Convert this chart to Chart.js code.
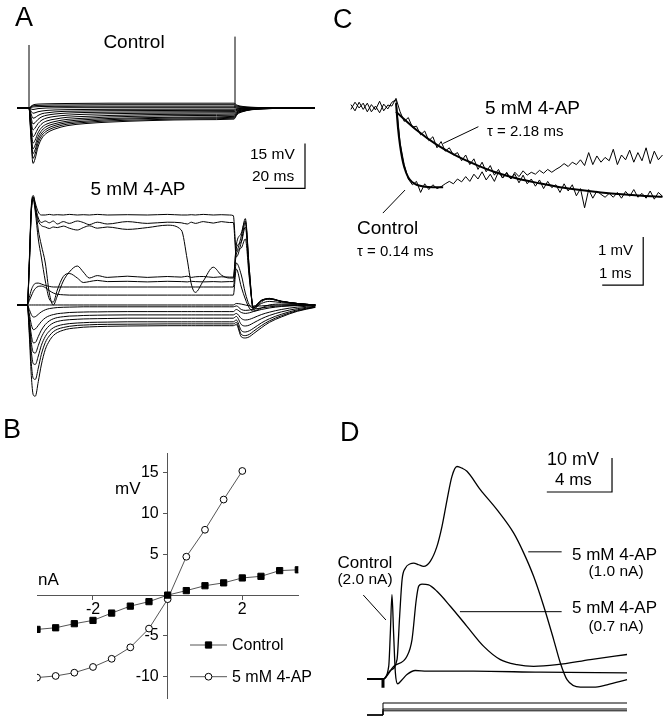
<!DOCTYPE html>
<html lang="en">
<head>
<meta charset="UTF-8">
<title>4-AP recordings</title>
<script src="https://cdn.jsdelivr.net/npm/chart.js@4"></script>
<style>
  body { margin: 0; background: #fff; }
  #fig { position: relative; width: 669px; height: 720px; overflow: hidden;
         font-family: 'Liberation Sans', Arial, Helvetica, sans-serif; color: #000; }
  #fig canvas { position: absolute; }
  .t { position: absolute; white-space: nowrap; line-height: 1; transform: translateY(-50%); }
  .c { transform: translate(-50%, -50%); }
  .big { font-size: 27px; }
</style>
</head>
<body>
<div id="fig">
  <canvas id="chartA1" width="340" height="200" style="left:0;top:0"></canvas>
  <canvas id="chartA2" width="340" height="220" style="left:0;top:180px"></canvas>
  <canvas id="chartB" width="340" height="280" style="left:0;top:440px"></canvas>
  <canvas id="chartC" width="329" height="260" style="left:340px;top:40px"></canvas>
  <canvas id="chartD" width="329" height="320" style="left:340px;top:400px"></canvas>

  <!-- panel A -->
  <div class="t big" style="left:15px;top:17px">A</div>
  <div class="t c" style="left:134px;top:41px;font-size:19px">Control</div>
  <div class="t c" style="left:138px;top:188px;font-size:19px">5 mM 4-AP</div>
  <div class="t" style="left:250px;top:154px;font-size:15.5px">15 mV</div>
  <div class="t" style="left:252px;top:176px;font-size:15.5px">20 ms</div>

  <!-- panel B -->
  <div class="t big" style="left:3px;top:429px">B</div>
  <div class="t" style="left:115px;top:488px;font-size:17px">mV</div>
  <div class="t" style="left:38px;top:579px;font-size:17px">nA</div>

  <!-- panel C -->
  <div class="t big" style="left:333px;top:19px">C</div>
  <div class="t" style="left:485px;top:107px;font-size:19px">5 mM 4-AP</div>
  <div class="t" style="left:487px;top:130px;font-size:15px">&tau; = 2.18 ms</div>
  <div class="t" style="left:357px;top:227px;font-size:19px">Control</div>
  <div class="t" style="left:357px;top:250px;font-size:15px">&tau; = 0.14 ms</div>
  <div class="t" style="left:598px;top:249px;font-size:15px">1 mV</div>
  <div class="t" style="left:599px;top:272px;font-size:15px">1 ms</div>

  <!-- panel D -->
  <div class="t big" style="left:340px;top:432px">D</div>
  <div class="t" style="left:547px;top:459px;font-size:18px">10 mV</div>
  <div class="t" style="left:555px;top:479px;font-size:17px">4 ms</div>
  <div class="t c" style="left:365px;top:562px;font-size:17px">Control</div>
  <div class="t c" style="left:365px;top:579px;font-size:15.5px">(2.0 nA)</div>
  <div class="t" style="left:572px;top:554px;font-size:17px">5 mM 4-AP</div>
  <div class="t c" style="left:616px;top:571px;font-size:15.5px">(1.0 nA)</div>
  <div class="t" style="left:572px;top:607px;font-size:17px">5 mM 4-AP</div>
  <div class="t c" style="left:616px;top:626px;font-size:15.5px">(0.7 nA)</div>
</div>

<script>
const FONT = "'Liberation Sans', Arial, Helvetica, sans-serif";

// ---------- A: control, responses to current steps (ms, mV) ----------
const ctlTime = [-6, 0, 1, 2, 3, 4.5, 6.5, 9, 13, 19, 28, 40, 60, 85, 102.5, 104, 107, 111, 117, 126, 143];
const ctlTraces = [
  [0, 0, -10.4, -18.5, -17, -13, -10, -8.3, -7, -5.9, -5.2, -4.7, -4.2, -3.9, -3.7, -2.2, -1.2, -0.6, -0.3, -0.1, 0],
  [0, 0, -9.5, -16.8, -15.4, -11.8, -9.1, -7.6, -6.4, -5.4, -4.8, -4.3, -3.9, -3.6, -3.4, -2.0, -1.1, -0.55, -0.25, -0.1, 0],
  [0, 0, -8.6, -15.2, -14, -10.7, -8.3, -6.9, -5.8, -4.9, -4.4, -3.9, -3.5, -3.3, -3.1, -1.8, -1.0, -0.5, -0.25, -0.1, 0],
  [0, 0, -7.6, -13.6, -12.5, -9.6, -7.4, -6.1, -5.2, -4.4, -3.9, -3.5, -3.2, -3.0, -2.8, -1.6, -0.9, -0.45, -0.2, -0.1, 0],
  [0, 0, -6.6, -11.7, -10.8, -8.3, -6.4, -5.3, -4.5, -3.8, -3.4, -3.0, -2.7, -2.5, -2.4, -1.4, -0.8, -0.4, -0.2, -0.1, 0],
  [0, 0, -5.4, -9.6, -8.8, -6.8, -5.2, -4.3, -3.7, -3.1, -2.8, -2.5, -2.2, -2.1, -2.0, -1.2, -0.7, -0.35, -0.15, -0.05, 0],
  [0, 0, -4.1, -7.3, -6.7, -5.2, -4.0, -3.3, -2.8, -2.4, -2.1, -1.9, -1.75, -1.65, -1.6, -0.95, -0.55, -0.3, -0.1, 0, 0],
  [0, 0, -3.0, -5.3, -4.9, -3.8, -2.9, -2.4, -2.0, -1.7, -1.5, -1.4, -1.3, -1.25, -1.2, -0.7, -0.4, -0.2, -0.1, 0, 0],
  [0, 0, -1.9, -3.4, -3.2, -2.5, -1.9, -1.6, -1.3, -1.1, -1.0, -0.9, -0.85, -0.8, -0.8, -0.45, -0.25, -0.1, 0, 0, 0],
  [0, 0, -1.0, -1.75, -1.6, -1.25, -1.0, -0.8, -0.65, -0.55, -0.5, -0.45, -0.42, -0.4, -0.4, -0.25, -0.1, 0, 0, 0, 0],
  [0, 0, -0.3, -0.5, -0.4, -0.2, -0.1, 0, 0.05, 0.1, 0.1, 0.1, 0.1, 0.1, 0.1, 0.05, 0, 0, 0, 0, 0],
  [0, 0, 0.2, 0.35, 0.4, 0.45, 0.5, 0.5, 0.55, 0.55, 0.6, 0.6, 0.6, 0.6, 0.6, 0.35, 0.2, 0.1, 0.05, 0, 0],
  [0, 0, 0.4, 0.7, 0.8, 0.85, 0.9, 0.95, 1.0, 1.0, 1.05, 1.1, 1.1, 1.1, 1.1, 0.65, 0.35, 0.2, 0.1, 0.05, 0],
  [0, 0, 0.6, 1.0, 1.2, 1.3, 1.35, 1.4, 1.45, 1.5, 1.55, 1.6, 1.6, 1.6, 1.6, 0.95, 0.5, 0.25, 0.1, 0.05, 0]
];
const ctlArtifactTime = [0, 103];
const ctlArtifactPeak = [21, 23.8];

// ---------- A: 5 mM 4-AP ----------
const apTime = [-5, 0, 1, 2, 3, 4, 5.5, 7, 9, 11, 13, 15, 18, 21, 25, 28, 31, 35, 40, 50, 60, 70,
                77, 80, 82, 84, 88, 93, 97, 101, 103, 104.5, 107, 109, 111, 113, 117, 121, 127, 135, 144];
const apTraces = [
  [0, 0, 15, 33, 36.5, 34, 31, 30, 30, 30.2, 30, 30.1, 30, 30.2, 30, 30.1, 30, 30.2, 30, 30.1, 30, 30.2, 30, 30, 30.1, 30, 30.2, 30, 30.1, 30, 29.8, 18, 23, 28.8, 12, -1.5, 1, 2.2, 1.2, 0.5, 0],
  [0, 0, 14, 32, 36, 33, 29, 27.5, 28, 27.4, 28, 27, 27.8, 27.2, 28, 27.5, 26.8, 27.6, 27, 27.8, 27.2, 27.6, 27.4, 27, 27.6, 27.2, 27.8, 27.3, 27.8, 27.5, 27.5, 16, 21, 27.5, 11, -1, 1.5, 2.2, 1.3, 0.5, 0],
  [0, 0, 13, 31, 35.5, 32, 28, 26.5, 26, 25.5, 26, 25.8, 26.3, 25.6, 25, 25.8, 26.4, 25.6, 26, 25.2, 25.8, 26.6, 25, 15, 7, 4.2, 8, 12.6, 10, 9, 9, 19, 21, 26, 10, -1, 1.5, 2, 1.2, 0.5, 0],
  [0, 0, 14, 32, 36, 33, 25, 20, 14, 4, 0, 3, 8, 11, 13, 11, 9, 9.8, 9.2, 9.6, 9.2, 9.5, 9.3, 9.6, 9.2, 9.4, 9.5, 9.2, 9.4, 9.3, 9.3, 20, 24, 28, 12, -1, 1.5, 2, 1.2, 0.5, 0],
  [0, 0, 13, 31, 35, 31, 22, 16, 8, 2, 1, 5, 9.5, 10.5, 9, 7.5, 7.8, 8.2, 7.8, 7.9, 7.7, 7.9, 7.8, 7.7, 7.9, 7.8, 7.7, 7.8, 7.7, 7.8, 7.8, 17, 19, 22, 9, -0.5, 1.5, 2, 1.2, 0.5, 0],
  [0, 0, 2.5, 5, 6.5, 7.2, 7.3, 7, 6.5, 6.2, 6, 6, 6, 6, 6, 6, 6, 6, 6, 6, 6, 6, 6, 6, 6, 6, 6, 6, 6, 6, 6, 14, 10, 4, 0, -1, 0.5, 1.2, 0.8, 0.3, 0],
  [0, 0, 1.5, 3, 4.5, 5.5, 6.2, 6.3, 5.8, 4.8, 4, 3.6, 3.4, 3.3, 3.3, 3.3, 3.3, 3.3, 3.3, 3.3, 3.3, 3.3, 3.3, 3.3, 3.3, 3.3, 3.3, 3.3, 3.3, 3.3, 3.3, 12, 6, 2, -1, -2, -1, 0, 0.3, 0.2, 0],
  [0, 0, 0, 0, 0, 0, 0, 0, 0, 0, 0, 0, 0, 0, 0, 0, 0, 0, 0, 0, 0, 0, 0, 0, 0, 0, 0, 0, 0, 0, 0, 0.5, 0.3, 0, -0.3, -0.4, -0.3, -0.1, 0, 0, 0],
  [0, 0, -1.5, -3.2, -4, -3.9, -3.1, -2.3, -1.6, -1.2, -1, -0.85, -0.75, -0.7, -0.65, -0.6, -0.6, -0.6, -0.6, -0.6, -0.6, -0.6, -0.6, -0.6, -0.6, -0.6, -0.6, -0.6, -0.6, -0.6, -0.6, -0.3, -1.5, -1.8, -1.7, -1.4, -1, -0.6, -0.3, -0.1, 0],
  [0, 0, -3, -6.5, -8.2, -8, -6.8, -5.5, -4.3, -3.6, -3.2, -2.9, -2.7, -2.5, -2.4, -2.35, -2.3, -2.3, -2.25, -2.2, -2.2, -2.2, -2.2, -2.2, -2.2, -2.2, -2.2, -2.2, -2.2, -2.2, -2.2, -1.5, -2.5, -2.8, -2.6, -2.2, -1.5, -1, -0.5, -0.2, 0],
  [0, 0, -4.5, -10, -12.6, -12.5, -10.5, -8.4, -6.5, -5.3, -4.6, -4.2, -3.9, -3.7, -3.6, -3.5, -3.45, -3.4, -3.35, -3.3, -3.3, -3.3, -3.3, -3.3, -3.3, -3.3, -3.3, -3.3, -3.3, -3.3, -3.3, -2.8, -4.5, -5, -4.8, -4.3, -3.2, -2.4, -1.5, -0.7, -0.2],
  [0, 0, -5.5, -12.5, -15.8, -16, -13.5, -10.8, -8.4, -6.9, -6, -5.5, -5.1, -4.9, -4.75, -4.65, -4.6, -4.55, -4.5, -4.4, -4.4, -4.4, -4.4, -4.4, -4.4, -4.4, -4.4, -4.4, -4.4, -4.4, -4.4, -3.8, -6.5, -7, -6.7, -6, -4.6, -3.5, -2.3, -1.2, -0.4],
  [0, 0, -7, -15.5, -19.6, -19.8, -17, -13.5, -10.5, -8.7, -7.6, -7, -6.5, -6.2, -6, -5.9, -5.8, -5.75, -5.7, -5.6, -5.6, -5.6, -5.6, -5.6, -5.6, -5.6, -5.6, -5.6, -5.6, -5.6, -5.6, -5, -8.5, -9, -8.6, -7.8, -6, -4.6, -3.1, -1.6, -0.6],
  [0, 0, -8.5, -19.5, -24.5, -24.8, -21, -16.5, -12.5, -10.3, -8.9, -8.1, -7.5, -7.1, -6.8, -6.7, -6.6, -6.5, -6.45, -6.4, -6.35, -6.3, -6.3, -6.3, -6.3, -6.3, -6.3, -6.3, -6.3, -6.3, -6.3, -5.8, -9.8, -10.2, -9.8, -8.8, -6.9, -5.3, -3.6, -1.9, -0.7],
  [0, 0, -10, -23.5, -30, -30.4, -25.5, -20, -14.8, -12, -10.2, -9.2, -8.4, -7.9, -7.6, -7.4, -7.3, -7.2, -7.1, -7.0, -6.95, -6.9, -6.9, -6.9, -6.9, -6.9, -6.9, -6.9, -6.9, -6.9, -6.9, -6.5, -10.6, -11, -10.6, -9.6, -7.6, -5.8, -4, -2.1, -0.8]
];

// ---------- B: V-I relation ----------
const ivCurrent = [-3.5, -3, -2.5, -2, -1.5, -1, -0.5, 0, 0.5, 1, 1.5, 2, 2.5, 3, 3.5];
const ivControl = [-4.2, -4.0, -3.5, -3.1, -2.2, -1.35, -0.8, 0, 0.55, 1.15, 1.5, 2.1, 2.3, 3.0, 3.1];
const ivAP = [-10.1, -9.9, -9.5, -8.8, -7.8, -6.4, -4.1, -0.5, 4.7, 8.0, 11.7, 15.2];
const ivTicksX = [-2, 2];
const ivTicksY = [-10, -5, 5, 10, 15];

// ---------- C: onset of the response, with exponential fits ----------
const cTime = [-1.1, -1.0, -0.9, -0.8, -0.7, -0.6, -0.5, -0.4, -0.3, -0.2, -0.1,
  0, 0.1, 0.2, 0.3, 0.4, 0.5, 0.6, 0.7, 0.8, 0.9, 1.0, 1.1, 1.2, 1.3, 1.4, 1.5, 1.6, 1.7, 1.8, 1.9,
  2.0, 2.1, 2.2, 2.3, 2.4, 2.5, 2.6, 2.7, 2.8, 2.9, 3.0, 3.1, 3.2, 3.3, 3.4, 3.5, 3.6, 3.7, 3.8, 3.9,
  4.0, 4.1, 4.2, 4.3, 4.4, 4.5, 4.6, 4.7, 4.8, 4.9, 5.0, 5.1, 5.2, 5.3, 5.4, 5.5, 5.6, 5.7, 5.8, 5.9,
  6.0, 6.1, 6.2, 6.3, 6.4, 6.5];
const cControl = [0.05, -0.08, 0.1, -0.05, 0.08, -0.1, 0.02, -0.12, 0.06, -0.04, 0.1,
  0.15, -0.75, -1.2, -1.5, -1.62, -1.55, -1.78, -1.6, -1.72, -1.62,
  -1.7, -1.66, -1.6, -1.55, -1.6, -1.5, -1.56, -1.45, -1.55, -1.4,
  -1.5, -1.35, -1.52, -1.4, -1.55, -1.35, -1.48, -1.38, -1.5, -1.36,
  -1.45, -1.33, -1.42, -1.36, -1.4, -1.32, -1.38, -1.3, -1.36, -1.3,
  -1.25, -1.18, -1.24, -1.15, -1.2, -1.1, -1.22, -0.95, -1.2, -1.02,
  -1.15, -1.05, -1.12, -0.88, -1.2, -1.0, -1.1, -0.9, -1.15, -0.95,
  -1.12, -0.85, -1.18, -0.92, -1.1, -1.0];
const cAP = [-0.05, 0.1, -0.02, 0.08, -0.1, 0.05, -0.06, 0.12, -0.08, 0.04, 0.02,
  0.18, -0.1, -0.3, -0.22, -0.42, -0.4, -0.58, -0.5, -0.7, -0.62,
  -0.85, -0.72, -0.92, -0.85, -1.0, -0.95, -1.12, -1.0, -1.2, -1.08,
  -1.3, -1.15, -1.35, -1.22, -1.42, -1.3, -1.48, -1.36, -1.5, -1.4,
  -1.58, -1.42, -1.6, -1.5, -1.65, -1.52, -1.7, -1.55, -1.68, -1.62,
  -1.78, -1.6, -1.75, -1.62, -1.85, -1.7, -2.1, -1.72, -1.9, -1.75,
  -1.82, -1.88, -1.8, -1.88, -1.78, -1.9, -1.76, -1.86, -1.72, -1.88,
  -1.8, -1.9, -1.75, -1.92, -1.78, -1.86];
const cFitCtlTime = [0, 0.05, 0.1, 0.15, 0.2, 0.3, 0.4, 0.5, 0.7, 0.9, 1.15];
const cFitCtl = [0.08, -0.45, -0.81, -1.07, -1.25, -1.47, -1.57, -1.62, -1.66, -1.67, -1.67];
const cFitAPTime = [0, 0.5, 1, 1.5, 2, 2.5, 3, 3.5, 4, 4.5, 5, 5.5, 6, 6.5];
const cFitAP = [-0.10, -0.48, -0.79, -1.03, -1.22, -1.38, -1.50, -1.59, -1.67, -1.73, -1.78, -1.82, -1.85, -1.87];

// ---------- D: responses to depolarising current ----------
const dCtlTime = [-0.98, 0, 0.35, 0.45, 0.55, 0.65, 0.76, 0.9, 1.17, 1.47, 1.98, 2.7, 5.56, 9.65, 14.97];
const dCtl = [0, 0, 3.7, 13.5, 24.8, 13.5, 1.8, -1.4, -0.2, 1.3, 2.5, 2.3, 2.3, 2.0, 1.8];
const dAP10Time = [-0.98, 0, 0.45, 0.86, 1.02, 1.17, 1.37, 1.68, 1.88, 2.19, 2.49, 2.9, 3.31, 3.62, 3.93, 4.23,
  4.54, 4.85, 5.15, 5.97, 6.99, 8.02, 8.63, 9.24, 9.86, 10.47, 10.88, 11.29, 12.11, 12.92, 13.74, 14.97];
const dAP10 = [0, 0, 2.5, 5.7, 18.4, 29.2, 32.6, 33.9, 34.1, 33.6, 33.1, 34.6, 39, 44.9, 52.7, 59.6,
  62.5, 62, 61.1, 55.7, 49.8, 42.9, 37.1, 30.2, 21.4, 11.6, 4.7, -0.2, -2.4, -2.4, -1.7, -0.2];
const dAP07Time = [-0.98, 0, 0.65, 1.47, 1.78, 2.04, 2.19, 2.39, 2.8, 3.31, 4.13, 5.15, 6.18, 7.2, 8.22, 9.24, 10.67, 12.72, 14.97];
const dAP07 = [0, 0, 3.7, 6.7, 11.6, 23.3, 27.3, 27.9, 27.7, 25.8, 21.4, 15.5, 9.6, 5.7, 4.2, 3.7, 4.2, 5.7, 7.2];
const dStimTime = [-0.98, 0, 14.97];
const dStimAmp = [2.0, 1.0, 0.7];   // nA
const dArtifact = -2.6;

// ---------- helpers ----------
function pts(xs, ys) {
  return xs.map((x, i) => ({ x: x, y: ys[i] }));
}
function trace(xs, ys, width, smooth) {
  return {
    data: pts(xs, ys), borderColor: '#000', borderWidth: width || 1, pointRadius: 0,
    cubicInterpolationMode: smooth === false ? 'default' : 'monotone', tension: 0,
    borderJoinStyle: 'round'
  };
}
function poly(points, width, axis) {
  const ds = { data: points, borderColor: '#000', borderWidth: width || 1, pointRadius: 0, tension: 0 };
  if (axis) ds.yAxisID = axis;
  return ds;
}
function scaleBar(corner, dx, dy) {
  return poly([{ x: corner.x - dx, y: corner.y }, { x: corner.x, y: corner.y }, { x: corner.x, y: corner.y + dy }], 1.2);
}
function traceChart(id, xr, yr, datasets, extraScales) {
  const scales = {
    x: { type: 'linear', display: false, min: xr[0], max: xr[1] },
    y: { type: 'linear', display: false, min: yr[0], max: yr[1] }
  };
  Object.assign(scales, extraScales || {});
  return new Chart(document.getElementById(id), {
    type: 'line',
    data: { datasets: datasets },
    options: {
      responsive: false, animation: false, events: [],
      layout: { padding: 0 },
      plugins: { legend: { display: false }, tooltip: { enabled: false } },
      scales: scales
    }
  });
}

// ---------- A ----------
const a1 = ctlTraces.map(v => trace(ctlTime, v, 1));
ctlArtifactTime.forEach((t, i) => a1.push(poly([{ x: t, y: 0 }, { x: t, y: ctlArtifactPeak[i] }], 1)));
a1.push(scaleBar({ x: 138, y: -26.8 }, 20, 15));
traceChart('chartA1', [-14.5, 155.5], [-30.667, 36], a1);

traceChart('chartA2', [-13.65, 156.35], [-31.667, 41.667], apTraces.map(v => trace(apTime, v, 1)));

// ---------- B ----------
const ivLegend = {
  id: 'ivLegend',
  afterDatasetsDraw(chart) {
    const ctx = chart.ctx;
    ctx.save();
    ctx.font = '16px ' + FONT;
    ctx.textBaseline = 'middle';
    chart.data.datasets.forEach((ds, i) => {
      const y = 205 + i * 31.7;
      ctx.strokeStyle = ds.borderColor;
      ctx.lineWidth = 1;
      ctx.beginPath(); ctx.moveTo(190, y); ctx.lineTo(227, y); ctx.stroke();
      ctx.fillStyle = ds.pointBackgroundColor;
      ctx.strokeStyle = ds.pointBorderColor;
      ctx.beginPath();
      if (ds.pointStyle === 'rect') {
        const s = ds.pointRadius * Math.SQRT1_2;
        ctx.rect(208.5 - s, y - s, 2 * s, 2 * s);
      } else {
        ctx.arc(208.5, y, ds.pointRadius, 0, Math.PI * 2);
      }
      ctx.fill(); ctx.stroke();
      ctx.fillStyle = '#000';
      ctx.fillText(ds.label, 232, y + 1);
    });
    ctx.restore();
  }
};

new Chart(document.getElementById('chartB'), {
  type: 'line',
  data: {
    datasets: [
      { label: 'Control', data: pts(ivCurrent, ivControl), borderColor: '#555', borderWidth: 1,
        pointStyle: 'rect', pointRadius: 4.4, pointBackgroundColor: '#000', pointBorderColor: '#000', pointBorderWidth: 1 },
      { label: '5 mM 4-AP', data: pts(ivCurrent.slice(0, ivAP.length), ivAP), borderColor: '#555', borderWidth: 1,
        pointStyle: 'circle', pointRadius: 3.4, pointBackgroundColor: '#fff', pointBorderColor: '#000', pointBorderWidth: 1 }
    ]
  },
  options: {
    responsive: false, animation: false, events: [],
    layout: { padding: { left: 37, right: 41.7, top: 13, bottom: 22 } },
    plugins: { legend: { display: false }, tooltip: { enabled: false } },
    scales: {
      x: {
        type: 'linear', min: -3.5, max: 3.5, position: { y: 0 },
        afterBuildTicks: s => { s.ticks = ivTicksX.map(v => ({ value: v })); },
        afterFit: s => { s.height = 0; },
        grid: { drawOnChartArea: false, tickLength: 4, color: '#555' },
        border: { color: '#555', width: 1 },
        ticks: { autoSkip: false, maxRotation: 0, padding: 1,
                 color: '#000', font: { family: FONT, size: 16 } }
      },
      y: {
        type: 'linear', min: -12.6, max: 17.4, position: { x: 0 },
        afterBuildTicks: s => { s.ticks = ivTicksY.map(v => ({ value: v })); },
        afterFit: s => { s.width = 0; },
        grid: { drawOnChartArea: false, tickLength: 4, color: '#555' },
        border: { color: '#555', width: 1 },
        ticks: { autoSkip: false, color: '#000', font: { family: FONT, size: 16 },
                 callback: v => v + '  ' }
      }
    }
  },
  plugins: [ivLegend]
});

// ---------- C ----------
const cSets = [
  trace(cTime, cControl, 1, false),
  trace(cTime, cAP, 1, false),
  trace(cFitCtlTime, cFitCtl, 2),
  trace(cFitAPTime, cFitAP, 2),
  poly([{ x: 2.01, y: -0.41 }, { x: 1.15, y: -0.76 }], 1),
  poly([{ x: -0.32, y: -2.21 }, { x: 0.22, y: -1.73 }], 1),
  scaleBar({ x: 6.03, y: -3.71 }, 1, 1)
];
traceChart('chartC', [-1.366, 6.659], [-4.021, 1.396], cSets);

// ---------- D ----------
const dSets = [
  trace(dCtlTime, dCtl, 1.3),
  trace(dAP10Time, dAP10, 1.3),
  trace(dAP07Time, dAP07, 1.3),
  poly([{ x: 0, y: 0 }, { x: 0, y: dArtifact }], 3),
  poly([{ x: -1.21, y: 24.7 }, { x: 0.18, y: 17.35 }], 1),
  poly([{ x: 8.91, y: 37.4 }, { x: 10.96, y: 37.4 }], 1),
  poly([{ x: 4.72, y: 19.8 }, { x: 10.96, y: 19.8 }], 1),
  scaleBar({ x: 14.05, y: 55 }, 4, 10)
];
dStimAmp.forEach(a => {
  dSets.push(poly([{ x: dStimTime[0], y: 0 }, { x: dStimTime[1], y: 0 },
                   { x: dStimTime[1], y: a }, { x: dStimTime[2], y: a }], 1, 'yI'));
});
traceChart('chartD', [-2.638, 17.546], [-12.06, 82.06], dSets,
  { yI: { type: 'linear', display: false, min: -0.833, max: 52.5 } });
</script>
</body>
</html>
